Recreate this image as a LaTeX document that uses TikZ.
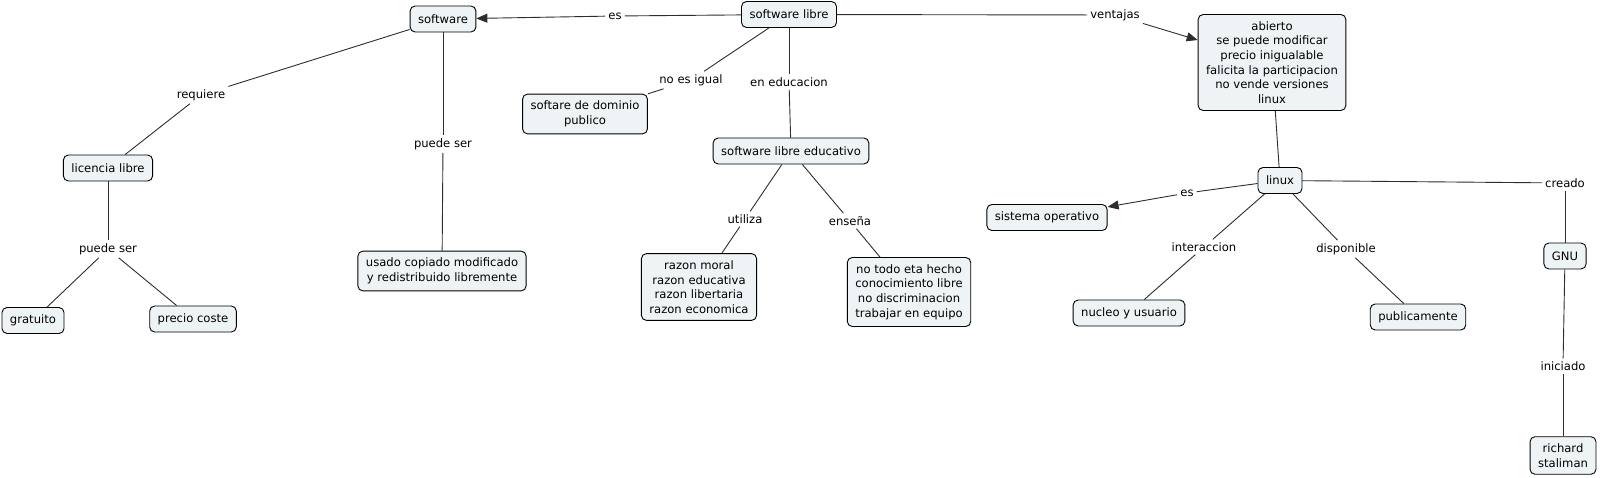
\documentclass[tikz,border=0pt]{standalone}
\usepackage{fontspec}
\setmainfont{DejaVu Sans}
\usetikzlibrary{arrows.meta}
\definecolor{cmapfill}{RGB}{238,243,246}
\definecolor{cmapline}{RGB}{45,45,45}
\begin{document}
\begin{tikzpicture}[x=1pt,y=-1pt,
   font=\fontsize{11.6}{14.6}\selectfont,
   concept/.style={draw=black, fill=cmapfill, rounded corners=5pt, align=center,
      inner xsep=8pt, inner ysep=7pt, minimum height=26pt, line width=0.9pt},
   phrase/.style={inner sep=3pt},
   link/.style={draw=cmapline, line width=0.9pt},
   arr/.style={link, -{Triangle[length=11pt,width=9pt]}}]
   \useasboundingbox (0,0) rectangle (1600,478);

   % concepts
   \node[concept] (sw) at (443,19) {software};
   \node[concept] (swl) at (789,14.5) {software libre};
   \node[concept] (abi) at (1272,62.5) {abierto\\se puede modificar\\precio inigualable\\falicita la participacion\\no vende versiones\\linux};
   \node[concept] (dom) at (585,114) {softare de dominio\\publico};
   \node[concept] (swe) at (791,151) {software libre educativo};
   \node[concept] (lic) at (108,168) {licencia libre};
   \node[concept] (usa) at (442,271) {usado copiado modificado\\y redistribuido libremente};
   \node[concept] (gra) at (33,320.5) {gratuito};
   \node[concept] (pre) at (193,319) {precio coste};
   \node[concept] (raz) at (699,287) {razon moral\\razon educativa\\razon libertaria\\razon economica};
   \node[concept] (tod) at (909,292) {no todo eta hecho\\conocimiento libre\\no discriminacion\\trabajar en equipo};
   \node[concept] (lin) at (1280,180.5) {linux};
   \node[concept] (sis) at (1047,217.5) {sistema operativo};
   \node[concept] (nuc) at (1129,313) {nucleo y usuario};
   \node[concept] (pub) at (1418,317) {publicamente};
   \node[concept] (gnu) at (1565,256) {GNU};
   \node[concept] (ric) at (1563,455.5) {richard\\staliman};

   % linking phrases
   \node[phrase] (es1) at (615,16) {es};
   \node[phrase] (ven) at (1115,15) {ventajas};
   \node[phrase] (noi) at (691,80) {no es igual};
   \node[phrase] (edu) at (789,82) {en educacion};
   \node[phrase] (req) at (201,95) {requiere};
   \node[phrase] (ps1) at (443,144) {puede ser};
   \node[phrase] (ps2) at (108,249) {puede ser};
   \node[phrase] (uti) at (745,219) {utiliza};
   \node[phrase] (ens) at (850,221) {enseña};
   \node[phrase] (es2) at (1187,193) {es};
   \node[phrase] (cre) at (1565,183) {creado};
   \node[phrase] (int) at (1204,247) {interaccion};
   \node[phrase] (dis) at (1346,249) {disponible};
   \node[phrase] (ini) at (1563,366) {iniciado};

   \foreach \a/\b in {swl/es1, swl/ven, swl/noi, noi/dom, swl/edu, edu/swe,
      sw/req, req/lic, sw/ps1, ps1/usa, lic/ps2, ps2/gra, ps2/pre,
      swe/uti, uti/raz, swe/ens, ens/tod, abi/lin, lin/es2,
      lin/cre, cre/gnu, gnu/ini, ini/ric, lin/int, int/nuc, lin/dis, dis/pub}
   \draw[link] (\a) -- (\b);

   \draw[arr] (es1) -- (sw);
   \draw[arr] (ven) -- (abi);
   \draw[arr] (es2) -- (sis);

\end{tikzpicture}
\end{document}
